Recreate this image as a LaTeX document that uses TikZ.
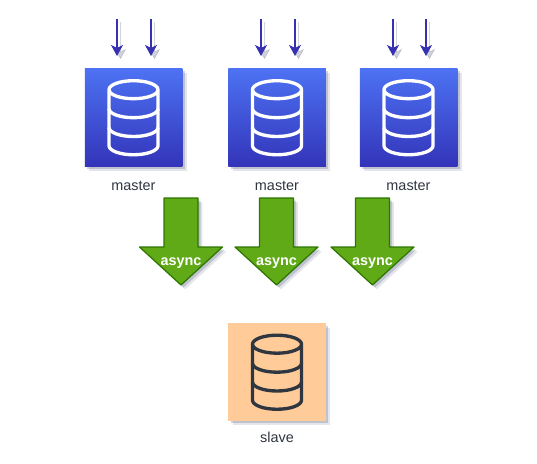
\documentclass[tikz,border=0pt]{standalone}
\usepackage{fontspec}
\setmainfont{Liberation Sans}
\usetikzlibrary{arrows.meta, shadows}

\definecolor{masterTop}{HTML}{4D72F3}
\definecolor{masterBot}{HTML}{3334B9}
\definecolor{slaveFill}{HTML}{FFCC99}
\definecolor{iconDark}{HTML}{2F3640}
\definecolor{asyncFill}{HTML}{60A917}
\definecolor{asyncLine}{HTML}{2D7600}
\definecolor{inLine}{HTML}{3730B0}
\definecolor{softShadow}{HTML}{4A5578}

\begin{document}
\begin{tikzpicture}[
  softdrop/.style={drop shadow={shadow xshift=0.05cm, shadow yshift=-0.05cm, fill=softShadow, opacity=0.25},
    drop shadow={shadow xshift=0.085cm, shadow yshift=-0.085cm, fill=softShadow, opacity=0.15}},
  dbbox/.style={minimum width=1.95cm, minimum height=1.95cm, inner sep=0pt, softdrop},
  master/.style={dbbox, top color=masterTop, bottom color=masterBot},
  slave/.style={dbbox, fill=slaveFill},
  lbl/.style={font=\fontsize{8.2}{9.8}\selectfont, text=iconDark},
  asynclbl/.style={font=\fontsize{8.2}{9.8}\selectfont\bfseries, text=white},
  inarr/.style={-{Stealth[length=0.22cm, width=0.24cm, inset=0.06cm]}, line width=0.6pt, inLine,
    preaction={draw=softShadow, opacity=0.25, transform canvas={xshift=0.07cm, yshift=-0.07cm}}},
  dbicon/.pic={
    \draw[line width=1.9pt, line join=round, pic actions] (-0.49, 0.556) arc[x radius=0.49, y radius=0.18, start angle=180, end angle=-180]
      -- (-0.49, -0.565) arc[x radius=0.49, y radius=0.18, start angle=180, end angle=360]
      -- (0.49, 0.556);
    \draw[line width=1.9pt, pic actions] (-0.49, 0.176) arc[x radius=0.49, y radius=0.18, start angle=180, end angle=360];
    \draw[line width=1.9pt, pic actions] (-0.49, -0.2) arc[x radius=0.49, y radius=0.18, start angle=180, end angle=360];
  },
  asyncarrow/.pic={
    \draw[fill=asyncFill, draw=asyncLine, line width=0.7pt, line join=round, softdrop]
      (-0.34, 0) -- (0.34, 0) -- (0.34, -0.98) -- (0.83, -0.98) -- (0, -1.74)
      -- (-0.83, -0.98) -- (-0.34, -0.98) -- cycle;
  },
]
\useasboundingbox (0, 0) rectangle (10.74, 9.26);

% masters
\node[master] (m1) at (2.67, 6.91) {};
\node[master] (m2) at (5.54, 6.91) {};
\node[master] (m3) at (8.17, 6.91) {};
\pic[white] at (m1) {dbicon};
\pic[white] at (m2) {dbicon};
\pic[white] at (m3) {dbicon};

\node[lbl] (m1lbl) at (2.67, 5.54) {master};
\node[lbl] (m2lbl) at (5.54, 5.54) {master};
\node[lbl] (m3lbl) at (8.17, 5.54) {master};

% incoming writes
\foreach \i/\x in {1/2.34, 2/3.02, 3/5.22, 4/5.90, 5/7.86, 6/8.52} {
  \coordinate (top\i) at (\x, 8.88);
  \coordinate (tip\i) at (\x, 8.14);
  \draw[inarr] (top\i) -- (tip\i);
}

% async replication
\pic at (3.62, 5.30) {asyncarrow};
\pic at (5.53, 5.30) {asyncarrow};
\pic at (7.45, 5.30) {asyncarrow};

\node[asynclbl] (a1) at (3.62, 3.99) {async};
\node[asynclbl] (a2) at (5.53, 3.99) {async};
\node[asynclbl] (a3) at (7.45, 3.99) {async};

% slave
\node[slave] (s1) at (5.54, 1.82) {};
\pic[iconDark] at (s1) {dbicon};
\node[lbl] (s1lbl) at (5.54, 0.52) {slave};

\end{tikzpicture}
\end{document}
